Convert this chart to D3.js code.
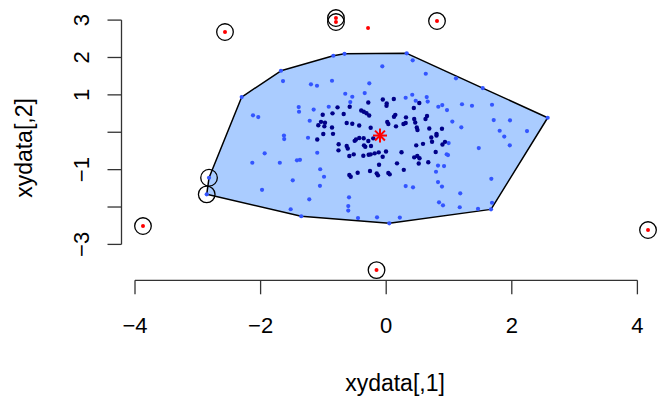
<!DOCTYPE html>
<html>
<head>
<meta charset="utf-8">
<script src="https://cdn.jsdelivr.net/npm/d3@7"></script>
<style>
  html, body { margin: 0; padding: 0; background: #fff; }
  svg { display: block; }
  text { font-family: "Liberation Sans", Arial, Helvetica, sans-serif; fill: #000; }
</style>
</head>
<body>
<svg id="chart" width="659" height="398"></svg>
<script>
// Bagplot of xydata: loop (hull of non-outliers), bag points, loop points, outliers, depth median.

const xTicks = [-4, -2, 0, 2, 4];
const yTicks = [-3, -2, -1, 0, 1, 2, 3];
const xTickLabels = ["\u22124", "\u22122", "0", "2", "4"];
const yTickLabels = ["\u22123", "", "\u22121", "", "1", "2", "3"];
const xLabel = "xydata[,1]";
const yLabel = "xydata[,2]";

// points outside the bag but inside the fence
const loopPoints = [
  [-2.301, 0.942], [-1.676, 1.645], [-0.842, 2.047], [-0.664, 2.097], [0.327, 2.111],
  [2.571, 0.388], [1.669, -2.063], [0.049, -2.437], [-1.353, -2.247], [-2.858, -1.661],
  [-2.821, -1.217], [-1.643, 1.370], [-1.198, 1.281], [-1.102, 1.244], [-0.863, 1.378],
  [-0.652, 1.030], [-0.540, 0.950], [-0.572, 0.808], [-0.342, 1.049], [-0.269, 1.308],
  [-0.062, 1.763], [0.422, 1.923], [0.630, 1.565], [1.111, 1.442], [1.537, 1.182],
  [0.310, 0.923], [0.415, 1.003], [0.645, 0.942], [0.470, 0.843], [0.661, 0.821],
  [-0.915, 0.682], [-2.121, 0.452], [-2.037, 0.407], [-1.393, 0.674], [-1.388, 0.548],
  [-1.155, 0.607], [-1.218, 0.308], [-1.628, -0.088], [-1.624, -0.182], [-1.245, -0.147],
  [0.830, 0.682], [0.893, 0.728], [0.968, 0.594], [1.207, 0.749], [1.366, 0.709],
  [1.685, 0.736], [1.053, 0.286], [1.196, 0.131], [1.712, 0.326], [1.972, 0.318],
  [1.807, 0.040], [1.880, -0.115], [2.242, 0.032], [-1.935, -0.564], [-2.132, -0.816],
  [-1.694, -0.816], [-1.421, -0.752], [-1.373, -0.738], [-1.098, -0.548], [-1.051, -0.990],
  [-0.990, -1.190], [-1.055, -1.434], [-1.488, -1.287], [-1.977, -1.541], [-1.225, -1.795],
  [-1.521, -2.060], [-0.592, -1.742], [-0.604, -1.974], [-0.604, -2.095], [-0.449, -2.295],
  [-0.146, -2.277], [0.217, -2.282], [0.310, -1.439], [0.427, -1.474], [0.793, -1.057],
  [0.994, -0.289], [1.474, -0.423], [1.968, -0.350], [0.963, -0.589], [0.984, -0.610],
  [0.825, -0.891], [0.921, -0.904], [0.825, -1.332], [0.888, -1.453], [1.674, -1.247],
  [1.179, -1.635], [0.841, -1.875], [0.904, -1.956], [1.171, -2.006], [1.462, -2.049],
  [1.685, -1.886]
];

// points inside the bag
const bagPoints = [
  [-0.775, 0.666], [-0.581, 0.682], [-0.285, 0.795], [-0.054, 0.875], [0.121, 0.888],
  [0.008, 0.768], [0.005, 0.706], [-0.398, 0.581], [-0.357, 0.548], [-0.314, 0.508],
  [-0.271, 0.447], [0.145, 0.465], [0.124, 0.415], [0.527, 0.781], [0.440, 0.647],
  [-0.677, 0.487], [-0.855, 0.506], [-1.011, 0.468], [0.446, 0.353], [0.462, 0.259],
  [0.650, 0.433], [0.626, 0.353], [0.315, 0.399], [-0.629, 0.246], [-0.540, 0.227],
  [-0.430, 0.179], [-0.247, 0.120], [0.034, 0.219], [0.017, 0.273], [0.156, 0.158],
  [0.275, 0.219], [0.310, 0.246], [0.487, 0.126], [0.498, 0.059], [0.686, 0.099],
  [-1.038, 0.278], [-0.975, 0.254], [-0.985, 0.158], [-0.863, 0.126], [-0.847, -0.043],
  [-1.081, 0.187], [-1.002, -0.048], [-0.429, -0.155], [-0.359, -0.161], [-0.481, -0.195],
  [-0.206, -0.163], [0.718, -0.142], [0.888, 0.094], [0.801, -0.043], [0.801, -0.088],
  [-1.098, -0.195], [-0.757, -0.321], [-0.629, -0.369], [-0.612, -0.436], [-0.760, -0.484],
  [-0.502, -0.230], [-0.354, -0.350], [-0.333, -0.388], [-0.285, -0.235], [-0.242, -0.369],
  [-0.587, -0.637], [-0.517, -0.591], [-0.364, -0.629], [-0.279, -0.602], [-0.247, -0.591],
  [-0.183, -0.564], [-0.119, -0.538], [-0.056, -0.655], [-0.003, -0.516], [-0.114, -0.869],
  [-0.258, -1.038], [-0.454, -1.083], [-0.587, -1.145], [-0.565, -1.190], [-0.151, -1.099],
  [-0.131, -1.153], [0.034, -1.091], [0.056, -1.126], [0.172, -0.832], [0.244, -0.535],
  [0.280, -1.006], [0.478, -0.350], [0.586, -0.310], [0.730, -0.254], [0.495, -0.637],
  [0.446, -0.671], [0.530, -0.696], [0.518, -0.837], [0.670, -0.803], [0.788, -0.530],
  [0.896, -0.329], [0.936, -0.257]
];

// points outside the fence
const outlierPoints = [
  [-2.567, 2.681], [-0.800, 3.055], [-0.800, 2.948], [-0.289, 2.788], [0.809, 2.975],
  [-3.873, -2.509], [-0.154, -3.687], [4.169, -2.616]
];

// highlighted observations
const circledPoints = [
  [-2.567, 2.681], [-0.800, 3.055], [-0.800, 2.948], [0.809, 2.975], [-3.873, -2.509],
  [-0.154, -3.687], [4.169, -2.616], [-2.858, -1.661], [-2.821, -1.217]
];

const median = [-0.099, -0.088];

const colLoopHull = "#aaccff";
const colLoopPts = "#3355ff";
const colBagPts = "#000088";
const colOutlier = "#ff0000";

const svg = d3.select("#chart");
const x = d3.scaleLinear().domain([-4, 4]).range([135.0, 637.4]);
const y = d3.scaleLinear().domain([-3, 3]).range([244.4, 20.1]);

// loop: convex hull of all non-outlying points
const hull = d3.polygonHull(loopPoints.concat(bagPoints).map(d => [x(d[0]), y(d[1])]));
svg.append("path")
  .attr("d", "M" + hull.map(p => p.join(",")).join("L") + "Z")
  .attr("fill", colLoopHull)
  .attr("stroke", "#000")
  .attr("stroke-width", 1.5)
  .attr("stroke-linejoin", "round");

function dots(data, color, r) {
  svg.append("g").selectAll("circle").data(data).join("circle")
    .attr("cx", d => x(d[0])).attr("cy", d => y(d[1]))
    .attr("r", r).attr("fill", color);
}
dots(loopPoints, colLoopPts, 2.1);
dots(bagPoints, colBagPts, 2.2);
dots(outlierPoints, colOutlier, 2.0);

svg.append("g").selectAll("circle").data(circledPoints).join("circle")
  .attr("cx", d => x(d[0])).attr("cy", d => y(d[1]))
  .attr("r", 8.3).attr("fill", "none").attr("stroke", "#000").attr("stroke-width", 1.3);

// depth median as an asterisk (plus and cross)
const mx = x(median[0]), my = y(median[1]), s = 7, d2 = s * Math.SQRT1_2;
const star = svg.append("g").attr("stroke", colOutlier).attr("stroke-width", 2).attr("stroke-linecap", "butt");
[[-s, 0, s, 0], [0, -s, 0, s], [-d2, -d2, d2, d2], [-d2, d2, d2, -d2]].forEach(l => {
  star.append("line").attr("x1", mx + l[0]).attr("y1", my + l[1]).attr("x2", mx + l[2]).attr("y2", my + l[3]);
});

// axes
const axisY = 280.3, axisX = 121.5, tickLen = 14, fs = 22;
const ax = svg.append("g").attr("stroke", "#333").attr("stroke-width", 1.3).attr("fill", "none");
ax.append("line").attr("x1", x(-4)).attr("x2", x(4)).attr("y1", axisY).attr("y2", axisY);
xTicks.forEach(t => ax.append("line").attr("x1", x(t)).attr("x2", x(t)).attr("y1", axisY).attr("y2", axisY + tickLen));
ax.append("line").attr("x1", axisX).attr("x2", axisX).attr("y1", y(-3)).attr("y2", y(3));
yTicks.forEach(t => ax.append("line").attr("x1", axisX).attr("x2", axisX - tickLen).attr("y1", y(t)).attr("y2", y(t)));

svg.append("g").selectAll("text").data(xTicks).join("text")
  .attr("x", d => x(d)).attr("y", 333)
  .attr("text-anchor", "middle").attr("font-size", fs)
  .text((d, i) => xTickLabels[i]);

svg.append("g").selectAll("text").data(yTicks).join("text")
  .attr("transform", d => `translate(88.5,${y(d)}) rotate(-90)`)
  .attr("text-anchor", "middle").attr("font-size", fs)
  .text((d, i) => yTickLabels[i]);

svg.append("text").attr("x", 395).attr("y", 391)
  .attr("text-anchor", "middle").attr("font-size", 23).text(xLabel);
svg.append("text").attr("transform", "translate(31.5,148) rotate(-90)")
  .attr("text-anchor", "middle").attr("font-size", 23).text(yLabel);
</script>
</body>
</html>
